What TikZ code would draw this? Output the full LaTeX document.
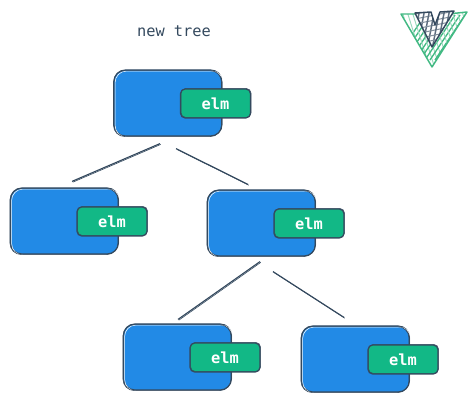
\documentclass[tikz,border=0pt]{standalone}
\usepackage{fontspec}
\setmonofont{DejaVu Sans Mono}
\usetikzlibrary{calc}
\definecolor{inkcol}{HTML}{34495E}
\definecolor{bluecol}{HTML}{228AE6}
\definecolor{elmcol}{HTML}{12B886}
\definecolor{vuecol}{HTML}{42B983}
\tikzset{
    sketch/.style={postaction={draw=white,line width=0.4pt,transform canvas={xshift=0.85pt,yshift=-0.8pt}},postaction={draw=inkcol,line width=0.45pt,transform canvas={xshift=-0.4pt,yshift=-0.45pt}}},
    vnode/.style={draw=inkcol,line width=0.9pt,fill=bluecol,rounded corners=8.5pt,minimum width=81pt,minimum height=49.5pt,inner sep=0pt,sketch},
    elmnode/.style={draw=inkcol,line width=0.9pt,fill=elmcol,rounded corners=3.5pt,minimum width=52.5pt,minimum height=21.75pt,inner sep=0pt,text=white,font=\ttfamily\bfseries\fontsize{11.5}{12}\selectfont,postaction={draw=inkcol,line width=0.4pt,transform canvas={xshift=0.4pt,yshift=0.4pt}}},
    link/.style={draw=inkcol,line width=0.85pt,postaction={draw=inkcol,line width=0.45pt,transform canvas={xshift=0.6pt,yshift=-0.6pt}}},
}
\begin{document}
\begin{tikzpicture}[x=0.75pt,y=0.75pt,yscale=-1,xscale=1]
\useasboundingbox (0,0) rectangle (475,402);

% Text Node
\node [anchor=center,inner sep=0.75pt,text=inkcol,font=\ttfamily\fontsize{11.5}{12}\selectfont] (title) at (174,31) {new tree};

%Shape: Vue logo, outer part
\begin{scope}
\clip (402,14) -- (418,14) -- (432,38) -- (448,14) -- (466,13) -- (432,67) -- cycle;
\foreach \k in {0,5,...,70} {
    \draw [vuecol,line width=1pt] (395+\k,60) -- (395+\k+30,15);
    \draw [vuecol!55,line width=0.7pt] (395+\k,5) -- (395+\k+22,75);
}
\end{scope}
\draw [vuecol,line width=1.1pt,line join=round] (401,14) -- (418,14) -- (432,38) -- (448,14) -- (467,12) -- (432,67) -- cycle;
%Shape: Vue logo, inner part
\begin{scope}
\clip (415,13) -- (431,12) -- (435,25) -- (440,12) -- (454,11) -- (432,47) -- cycle;
\fill [white] (410,5) rectangle (460,50);
\foreach \k in {0,5,...,50} {
    \draw [inkcol!80,line width=1.1pt] (410+\k,8) -- (410+\k-8,50);
    \draw [inkcol!60,line width=0.8pt] (410,10+\k) -- (460,\k);
}
\end{scope}
\draw [inkcol,line width=1.1pt,line join=round] (415,13) -- (431,12) -- (435,25) -- (440,12) -- (454,11) -- (432,47) -- cycle;

%Shape: Rounded Rect
\node [vnode] (top) at (168,103) {};
\node [vnode] (left) at (64.5,221) {};
\node [vnode] (right) at (261.5,223) {};
\node [vnode] (botleft) at (177.5,357) {};
\node [vnode] (botright) at (355.5,359) {};

% Text Node
\node [elmnode] (topelm) at (215.5,103.5) {elm};
\node [elmnode] (leftelm) at (112,221.5) {elm};
\node [elmnode] (rightelm) at (309,223.5) {elm};
\node [elmnode] (botleftelm) at (225,357.5) {elm};
\node [elmnode] (botrightelm) at (403,359.5) {elm};

%Straight Lines
\draw [link] ([shift={(-8,7)}]top.south) -- ([shift={(7.5,-6)}]left.north);
\draw [link] ([shift={(8,12)}]top.south) -- ([shift={(-13.5,-5)}]right.north);
\draw [link] ([shift={(-1.5,5)}]right.south) -- ([shift={(0.5,-4)}]botleft.north);
\draw [link] ([shift={(11.5,15)}]right.south) -- ([shift={(-11.5,-8)}]botright.north);

\end{tikzpicture}
\end{document}
